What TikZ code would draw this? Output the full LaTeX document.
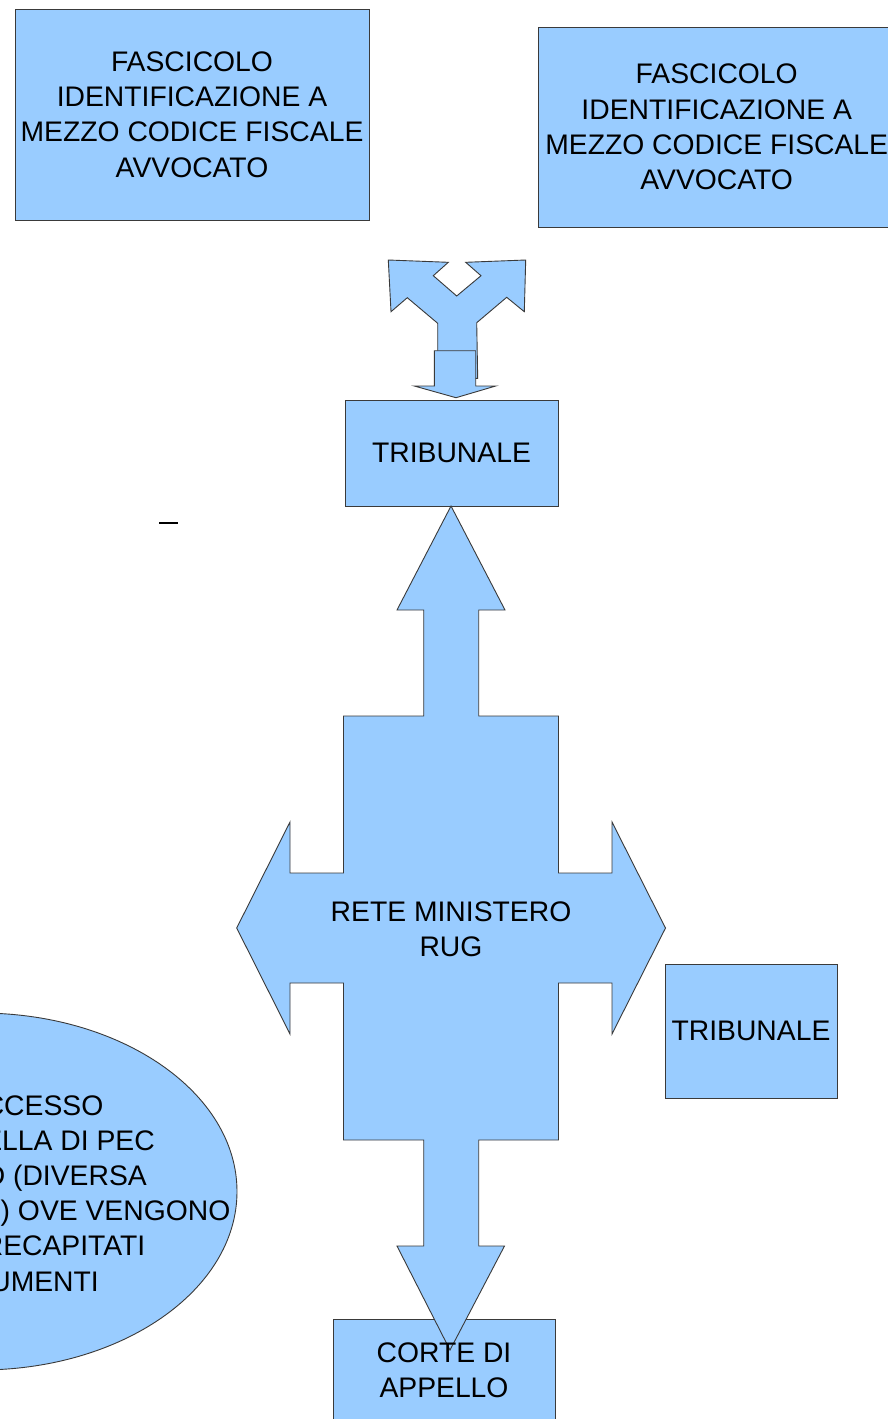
\documentclass[tikz,border=0pt]{standalone}
\usepackage{fontspec}
\setmainfont{Liberation Sans}
\usetikzlibrary{shapes.geometric}
\definecolor{shapeblue}{HTML}{99CCFF}
\definecolor{edgegray}{HTML}{3A3A3A}
\tikzset{
  shp/.style={fill=shapeblue, draw=edgegray, line width=0.9pt},
  boxnode/.style={shp, rectangle, inner sep=0pt},
  lbl/.style={font=\fontsize{28.3}{35.2}\selectfont, align=center, inner sep=0pt, text=black},
  frag/.style={font=\fontsize{28.3}{35.2}\selectfont, inner sep=0pt, anchor=base east, text=black},
}
\begin{document}
\begin{tikzpicture}[x=1pt,y=-1pt]
\clip (0,0) rectangle (888,1419);
\fill[white] (0,0) rectangle (888,1419);

% top boxes
\node[boxnode, minimum width=354pt, minimum height=211pt, lbl] (fascA) at (192,114.5)
  {FASCICOLO\\IDENTIFICAZIONE A\\MEZZO CODICE FISCALE\\AVVOCATO};
\node[boxnode, minimum width=357pt, minimum height=200pt, lbl] (fascB) at (716.7,127)
  {FASCICOLO\\IDENTIFICAZIONE A\\MEZZO CODICE FISCALE\\AVVOCATO};

% split (Y) arrow
\draw[shp, line join=miter] (388.3,260) -- (448.3,262.3) -- (433.3,275.7) -- (456.7,296)
  -- (481,275.7) -- (465.7,262.3) -- (525.7,260) -- (524.3,311.7) -- (506.7,297.3)
  -- (476.7,322.7) -- (477.7,378.3) -- (437.7,378.3) -- (437.7,323.3) -- (407.3,297.7)
  -- (391,311.7) -- cycle;
% small down arrow
\draw[shp] (434.3,350.7) -- (475.7,350.7) -- (475.7,386) -- (495.7,386) -- (456,397.7)
  -- (414.3,386) -- (434.3,386) -- cycle;

% TRIBUNALE top
\node[boxnode, minimum width=213pt, minimum height=106pt, lbl] (tribA) at (451.5,453) {TRIBUNALE};

% stray dash
\coordinate (dashA) at (159,523.3);
\coordinate (dashB) at (177.7,523.3);
\draw[line width=2.2pt, black] (dashA) -- (dashB);

% ellipse (partly outside)
\node[shp, ellipse, minimum width=514pt, minimum height=357pt, inner sep=0pt] (pec) at (-20,1191.5) {};
\node[frag] (pec1) at (103.5,1115) {CCESSO};
\node[frag] (pec2) at (155,1150.2) {ELLA DI PEC};
\node[frag] (pec3) at (147,1185.4) {D (DIVERSA};
\node[frag] (pec4) at (230.5,1220.6) {) OVE VENGONO};
\node[frag] (pec5) at (145.5,1255.8) {RECAPITATI};
\node[frag] (pec6) at (99,1291) {UMENTI};

% TRIBUNALE right
\node[boxnode, minimum width=172pt, minimum height=134pt, lbl] (tribB) at (751,1031) {TRIBUNALE};

% CORTE DI APPELLO box (text added on top later)
\node[boxnode, minimum width=222pt, minimum height=103pt] (corte) at (444,1370.5) {};

% cross-shaped four-way arrow
\draw[shp, line join=miter]
  (451,506) -- (505,610) -- (478.7,610) -- (478.7,716) -- (558.5,716) -- (558.5,873)
  -- (612,873) -- (612,822) -- (665.5,928) -- (612,1034) -- (612,983) -- (558.5,983)
  -- (558.5,1140) -- (478.7,1140) -- (478.7,1246) -- (504.5,1246) -- (450,1350)
  -- (397,1246) -- (423.7,1246) -- (423.7,1140) -- (343.5,1140) -- (343.5,983)
  -- (290,983) -- (290,1034) -- (236.7,928) -- (290,822) -- (290,873) -- (343.5,873)
  -- (343.5,716) -- (423.7,716) -- (423.7,610) -- (397,610) -- cycle;
\node[lbl] (rete) at (451,929) {RETE MINISTERO\\RUG};

\node[lbl] (corteTxt) at (corte.center) {CORTE DI\\APPELLO};
\end{tikzpicture}
\end{document}
